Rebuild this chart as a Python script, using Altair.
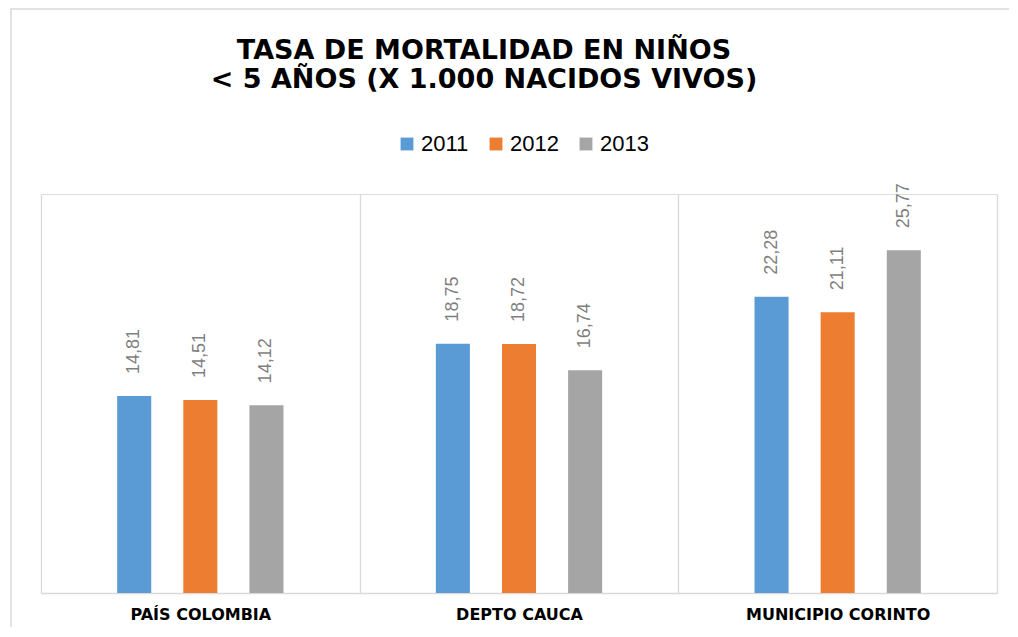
import altair as alt
import pandas as pd

categories = ["PAÍS  COLOMBIA", "DEPTO CAUCA", "MUNICIPIO CORINTO"]
years = ["2011", "2012", "2013"]
values_2011 = [14.81, 18.75, 22.28]
values_2012 = [14.51, 18.72, 21.11]
values_2013 = [14.12, 16.74, 25.77]
colors = ["#5B9BD5", "#ED7D31", "#A5A5A5"]

rows = []
for i, c in enumerate(categories):
    for y, vals in zip(years, [values_2011, values_2012, values_2013]):
        rows.append({"cat": c, "year": y, "value": vals[i]})
df = pd.DataFrame(rows)

W, H = 956, 399
offset_domain = ["_a"] + years + ["_b"]

base = alt.Chart(df).encode(
    x=alt.X("cat:N", sort=categories, title=None,
            scale=alt.Scale(paddingInner=0, paddingOuter=0),
            axis=alt.Axis(tickBand="extent", grid=True, gridColor="#d9d9d9",
                          gridWidth=1.3, domain=True, domainColor="#d9d9d9",
                          domainWidth=1.3, ticks=False, labelAngle=0,
                          labelFont="DejaVu Sans", labelFontWeight="bold",
                          labelFontSize=16, labelColor="#000000",
                          labelPadding=13, labelLimit=600)),
    xOffset=alt.XOffset("year:N",
                        scale=alt.Scale(domain=offset_domain, paddingInner=0.485,
                                        paddingOuter=0.152)),
    y=alt.Y("value:Q", axis=None, scale=alt.Scale(domain=[0, 30], nice=False, zero=True)),
)

bars = base.mark_bar().encode(
    color=alt.Color("year:N", sort=years,
                    scale=alt.Scale(domain=years, range=colors),
                    legend=alt.Legend(title=None, orient="none", direction="horizontal",
                                      legendX=355, legendY=-61,
                                      symbolType="square", symbolSize=165,
                                      symbolStrokeWidth=0,
                                      labelFont="Liberation Sans", labelFontSize=22,
                                      labelColor="#000000", labelOffset=3,
                                      columnPadding=16)),
)

labels = base.transform_calculate(
    lab="replace(format(datum.value, '.2f'), '.', ',')"
).mark_text(angle=270, align="left", baseline="middle", dx=22,
            font="Liberation Sans", fontSize=18, color="#7f7f7f").encode(
    text="lab:N"
)

border = alt.Chart(alt.Data(values=[{"a": 1}])).mark_rect(
    fill="transparent", stroke="#d9d9d9", strokeWidth=1.5
).encode(
    x=alt.value(-30), x2=alt.value(990),
    y=alt.value(-185), y2=alt.value(470),
)

chart = alt.layer(border, bars, labels).properties(
    width=W, height=H,
    autosize=alt.AutoSizeParams(type="none"),
    padding={"left": 33, "top": 186, "right": 12, "bottom": 34},
    title=alt.Title(["TASA DE MORTALIDAD EN NIÑOS", "< 5 AÑOS (X 1.000 NACIDOS VIVOS)"],
                    font="DejaVu Sans", fontSize=27, fontWeight="bold",
                    color="#000000", anchor="middle", frame="group",
                    dx=-35, offset=-86, lineHeight=29),
).configure_view(stroke=None).configure(background="#ffffff")

chart.save("out.html", embed_options={"renderer": "svg", "actions": False})
